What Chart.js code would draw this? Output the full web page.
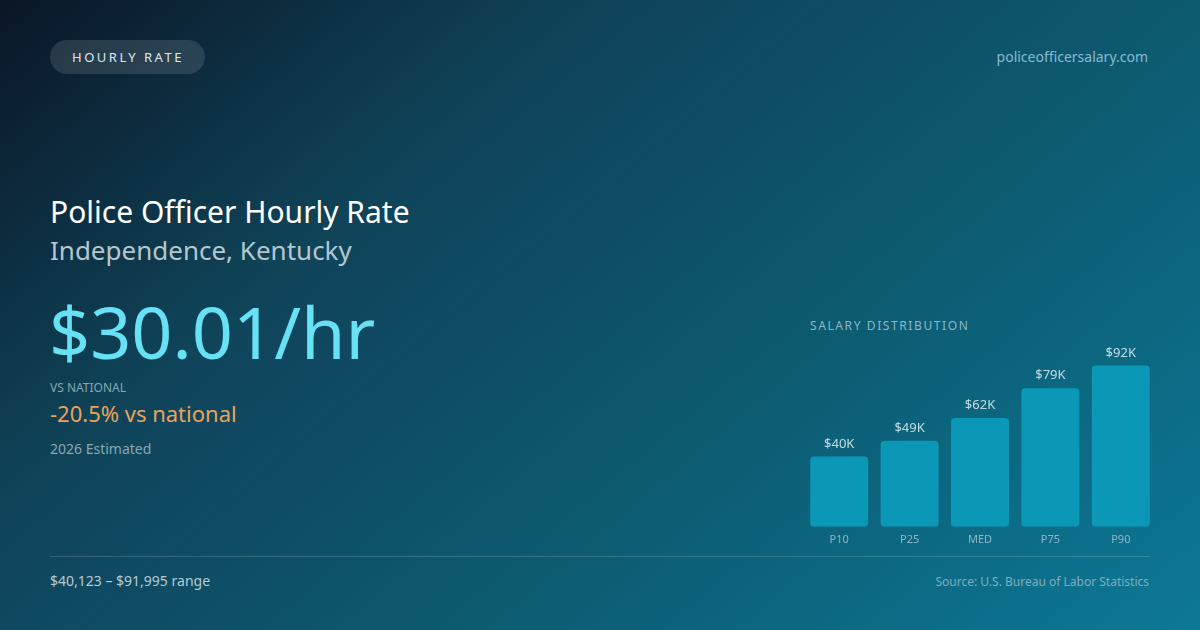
<!DOCTYPE html>
<html>
<head>
<meta charset="utf-8">
<script src="https://cdn.jsdelivr.net/npm/chart.js@4.4.1/dist/chart.umd.min.js"></script>
<style>
  html,body{margin:0;padding:0;}
  body{width:1200px;height:630px;overflow:hidden;position:relative;
    font-family:"Noto Sans","Open Sans",sans-serif;
    background:linear-gradient(140deg,#0a1626 0%,#0f4459 31%,#0f4860 38.5%,#0c5a70 61.5%,#0d7896 100%);}
  .abs{position:absolute;white-space:nowrap;line-height:1.2;}
  #badge{left:50px;top:40px;width:155px;height:34px;border-radius:17px;background:rgba(255,255,255,0.12);
    color:#dce8ee;font-size:13px;letter-spacing:2.5px;line-height:34px;text-align:center;text-indent:1px;}
  #site{right:52px;top:49px;font-size:14px;color:#8ab9ca;}
  #title{left:50px;top:194px;font-size:30px;color:#ffffff;}
  #sub{left:50px;top:235px;font-size:26px;color:#b4c6ce;}
  #big{left:49px;top:286px;font-size:72px;color:#67e2f5;line-height:90px;}
  #vsl{left:50px;top:381px;font-size:12px;color:#8aa6b2;}
  #vs{left:50px;top:400px;font-size:22px;color:#eba35a;}
  #est{left:50px;top:441px;font-size:14px;color:#8aa6b2;}
  #line{left:50px;top:556px;width:1100px;height:1px;background:rgba(255,255,255,0.16);}
  #range{left:50px;top:573px;font-size:14px;color:#b7cbd3;}
  #src{right:51px;top:575px;font-size:12px;color:#7fadbd;}
  #dist{left:810px;top:319px;font-size:12px;letter-spacing:1.6px;color:#8fb6c4;}
  #wrap{position:absolute;left:804px;top:340px;width:352px;height:204px;}
</style>
</head>
<body>
<div class="abs" id="badge">HOURLY RATE</div>
<div class="abs" id="site">policeofficersalary.com</div>
<div class="abs" id="title">Police Officer Hourly Rate</div>
<div class="abs" id="sub">Independence, Kentucky</div>
<div class="abs" id="big">$30.01/hr</div>
<div class="abs" id="vsl">VS NATIONAL</div>
<div class="abs" id="vs">-20.5% vs national</div>
<div class="abs" id="est">2026 Estimated</div>
<div class="abs" id="line"></div>
<div class="abs" id="range">$40,123 – $91,995 range</div>
<div class="abs" id="src">Source: U.S. Bureau of Labor Statistics</div>
<div class="abs" id="dist">SALARY DISTRIBUTION</div>
<div id="wrap"><canvas id="c"></canvas></div>
<script>
const categories = ["P10", "P25", "MED", "P75", "P90"];
const salaries = [40123, 49000, 62000, 79000, 91995];

const valueLabels = {
  id: "valueLabels",
  afterDatasetsDraw(chart) {
    const ctx = chart.ctx;
    const meta = chart.getDatasetMeta(0);
    ctx.save();
    ctx.font = '13px "Noto Sans", sans-serif';
    ctx.fillStyle = "rgba(225,238,243,0.85)";
    ctx.textAlign = "center";
    ctx.textBaseline = "bottom";
    meta.data.forEach((bar, i) => {
      ctx.fillText("$" + Math.round(salaries[i] / 1000) + "K", bar.x, bar.y - 6);
    });
    ctx.restore();
  }
};

new Chart(document.getElementById("c"), {
  type: "bar",
  data: {
    labels: categories,
    datasets: [{
      data: salaries,
      backgroundColor: "#0b98b6",
      borderRadius: 4,
      borderSkipped: false,
      categoryPercentage: 1,
      barPercentage: 0.824
    }]
  },
  options: {
    responsive: true,
    maintainAspectRatio: false,
    animation: false,
    layout: { padding: 0 },
    plugins: { legend: { display: false }, tooltip: { enabled: false } },
    scales: {
      x: {
        grid: { display: false },
        border: { display: false },
        ticks: { color: "#8fb6c4", font: { size: 11, family: "Noto Sans" }, padding: -2 }
      },
      y: {
        display: false,
        min: 0,
        max: 106460
      }
    }
  },
  plugins: [valueLabels]
});
</script>
</body>
</html>
